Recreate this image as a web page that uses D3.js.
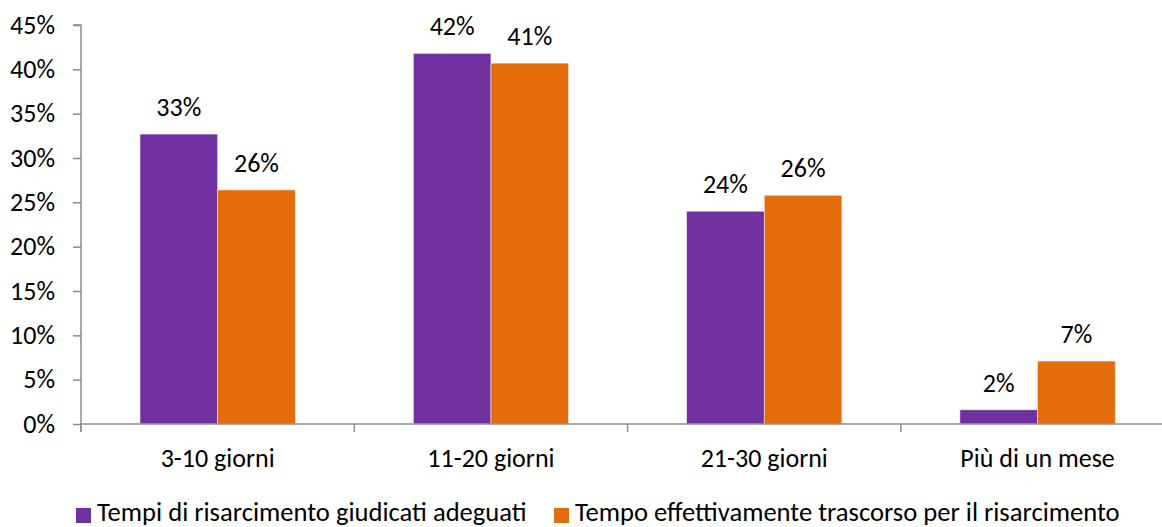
<!DOCTYPE html>
<html>
<head>
<meta charset="utf-8">
<script src="https://cdn.jsdelivr.net/npm/d3@7"></script>
<style>
  body { margin: 0; background: #fff; }
  svg { display: block; font-family: Carlito, "Open Sans", sans-serif; }
</style>
</head>
<body>
<svg id="chart" width="1162" height="527"></svg>
<script>
// data
const categories = ["3-10 giorni", "11-20 giorni", "21-30 giorni", "Più di un mese"];
const seriesNames = [
  "Tempi di risarcimento giudicati adeguati",
  "Tempo effettivamente trascorso per il risarcimento",
];
const adeguati = [32.7, 41.8, 24.0, 1.6];
const trascorso = [26.4, 40.7, 25.8, 7.1];
const yTicks = [0, 5, 10, 15, 20, 25, 30, 35, 40, 45];
const colors = ["#7030A0", "#E46C0A"];

const svg = d3.select("#chart");
const axisColor = "#8c8c8c";
const fs = 26;

/* scales */
const plotLeft = 81, plotBottom = 424, plotTop = 25;
const step = 273.3;
const x0 = d3.scaleBand().domain(categories).range([plotLeft, plotLeft + step * categories.length]);
const x1 = d3.scaleBand().domain([0, 1]).range([59, step - 59]);
const y = d3.scaleLinear().domain([0, 45]).range([plotBottom, plotTop]);

const rows = categories.map((c, i) => ({ cat: c, vals: [adeguati[i], trascorso[i]] }));

// bars
const g = svg.append("g");
const groups = g.selectAll("g.grp").data(rows).join("g")
  .attr("class", "grp")
  .attr("transform", d => `translate(${x0(d.cat)},0)`);

groups.selectAll("rect").data(d => d.vals).join("rect")
  .attr("x", (v, i) => x1(i))
  .attr("y", v => y(v))
  .attr("width", x1.bandwidth())
  .attr("height", v => y(0) - y(v))
  .attr("fill", (v, i) => colors[i])
  .attr("stroke", "#f3e6f7")
  .attr("stroke-width", 0.6);

groups.selectAll("text").data(d => d.vals).join("text")
  .attr("x", (v, i) => x1(i) + x1.bandwidth() / 2)
  .attr("y", v => y(v) - 18)
  .attr("text-anchor", "middle")
  .attr("font-size", fs)
  .attr("fill", "#000")
  .text(v => Math.round(v) + "%");

// y axis
const yAxis = svg.append("g")
  .attr("transform", `translate(${plotLeft},0)`)
  .call(d3.axisLeft(y).tickValues(yTicks).tickSize(8).tickPadding(18).tickFormat(d => d + "%"));
yAxis.select(".domain").attr("stroke", axisColor).attr("stroke-width", 1.5)
  .attr("d", `M-8,${plotTop}H0V${plotBottom + 8}`);
yAxis.selectAll(".tick line").attr("stroke", axisColor).attr("stroke-width", 1.5);
yAxis.selectAll(".tick text").attr("font-size", fs).attr("fill", "#000");
yAxis.attr("font-family", null);

// x axis
const xAxis = svg.append("g").attr("transform", `translate(0,${plotBottom})`);
xAxis.append("line")
  .attr("x1", plotLeft).attr("x2", 1162)
  .attr("stroke", axisColor).attr("stroke-width", 1.5);
xAxis.selectAll("line.tk").data(categories).join("line")
  .attr("class", "tk")
  .attr("x1", d => x0(d)).attr("x2", d => x0(d))
  .attr("y1", 0).attr("y2", 8)
  .attr("stroke", axisColor).attr("stroke-width", 1.5);
xAxis.selectAll("text").data(categories).join("text")
  .attr("x", d => x0(d) + x0.bandwidth() / 2)
  .attr("y", 43)
  .attr("text-anchor", "middle")
  .attr("font-size", fs)
  .text(d => d);

// legend
const legendX = [76, 554];
const legend = svg.append("g").attr("transform", "translate(0,508)");
const items = legend.selectAll("g").data(seriesNames).join("g")
  .attr("transform", (d, i) => `translate(${legendX[i]},0)`);
items.append("rect")
  .attr("width", 15).attr("height", 15)
  .attr("fill", (d, i) => colors[i]);
items.append("text")
  .attr("x", 21).attr("y", 13)
  .attr("font-size", 26.6)
  .text(d => d);
</script>
</body>
</html>
